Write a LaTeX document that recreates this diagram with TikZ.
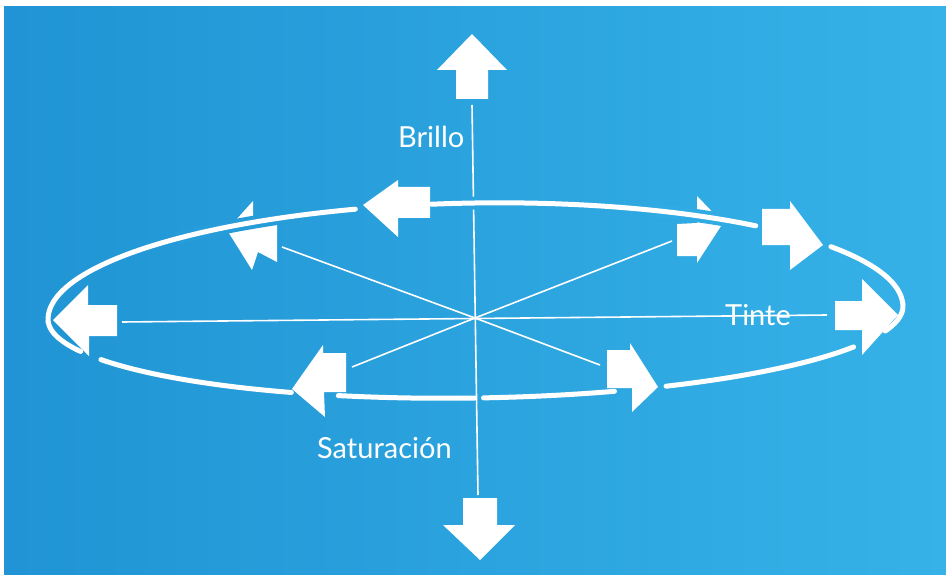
\documentclass[tikz,border=0pt]{standalone}
\usepackage{fontspec}
\setmainfont{Lato}
\definecolor{bgL}{RGB}{32,148,212}
\definecolor{bgR}{RGB}{54,178,232}
\definecolor{haloA}{RGB}{38,156,217}
\definecolor{haloV}{RGB}{43,163,222}
\definecolor{haloB}{RGB}{49,171,227}
\begin{document}
\begin{tikzpicture}[x={(1pt,0)},y={(0,-1pt)},
  arr/.style={fill=white,draw=none},
  ring/.style={draw=white,line width=5pt,line cap=round},
  thinline/.style={draw=white,line width=1.6pt},
  lbl/.style={text=white,font=\fontsize{29}{34}\selectfont,inner sep=0pt,anchor=base west}]

\useasboundingbox (0,0) rectangle (946,575);
\fill[white] (0,0) rectangle (946,575);
\shade[left color=bgL,right color=bgR] (4,7) rectangle (946,575);

% coordinates
\coordinate (O) at (475,318);
\coordinate (sUL) at (282,247);
\coordinate (sUR) at (672,241);
\coordinate (sLL) at (352,367);
\coordinate (sLR) at (600,365);
\coordinate (hL) at (122,322);
\coordinate (hR) at (827,315);
\coordinate (vT) at (472,105);
\coordinate (vB) at (478,495);

% small arrows
\fill[arr] (227,230) -- (253,201) -- (253,222) -- (277,225) -- (277,262) -- (258,252) -- (252,270) -- cycle;
\fill[arr] (723,223) -- (697,196) -- (697,223) -- (677,224) -- (677,256) -- (697,256) -- (697,263) -- cycle;

% spokes and axes
\draw[thinline] (O) -- (sUL);
\draw[thinline] (O) -- (sUR);
\draw[thinline] (O) -- (sLL);
\draw[thinline] (O) -- (sLR);
\draw[thinline] (hL) -- (hR);
\draw[thinline] (vT) -- (vB);

% ellipse
\begin{scope}[shift={(475.5,313)},rotate=0.9]
 % local halos where the ring passes over other lines
 \draw[haloA,line width=13pt] plot[domain=226:246,samples=20] ({427.5*cos(\x)},{110*sin(\x)});
 \draw[haloV,line width=13pt] plot[domain=268:272,samples=5] ({427.5*cos(\x)},{110*sin(\x)});
 \draw[haloB,line width=13pt] plot[domain=295:309,samples=15] ({427.5*cos(\x)},{110*sin(\x)});
 \draw[ring] plot[domain=157.7:180,samples=20] ({427.5*cos(\x)},{85*sin(\x)})
     -- plot[domain=180:253.9,samples=60] ({427.5*cos(\x)},{110*sin(\x)});
 \draw[ring] plot[domain=264.3:311.2,samples=50] ({427.5*cos(\x)},{110*sin(\x)});
 \draw[ring] plot[domain=326.5:360,samples=30] ({427.5*cos(\x)},{110*sin(\x)})
     -- plot[domain=0:16.7,samples=20] ({427.5*cos(\x)},{85*sin(\x)});
 \draw[ring] plot[domain=28:63.7,samples=40] ({427.5*cos(\x)},{85*sin(\x)});
 \draw[ring] plot[domain=71.2:89.1,samples=20] ({427.5*cos(\x)},{85*sin(\x)});
 \draw[ring] plot[domain=90.3:108.9,samples=20] ({427.5*cos(\x)},{85*sin(\x)});
 \draw[ring] plot[domain=115.7:151.4,samples=40] ({427.5*cos(\x)},{85*sin(\x)});
\end{scope}

% big arrows
\fill[arr] (472,34) -- (507,70) -- (488,70) -- (488,99) -- (456,99) -- (456,70) -- (437,70) -- cycle;
\fill[arr] (480,560) -- (515,525) -- (497,525) -- (497,498) -- (463,498) -- (463,525) -- (443,525) -- cycle;
\fill[arr] (363,205) -- (398,180) -- (398,187) -- (430,187) -- (430,218) -- (398,218) -- (398,237) -- cycle;
\fill[arr] (53,320) -- (88,285) -- (88,305) -- (117,305) -- (117,336) -- (89,336) -- (89,356) -- cycle;
\fill[arr] (823,245) -- (790,201) -- (790,209) -- (762,209) -- (762,245) -- (790,245) -- (790,270) -- cycle;
\fill[arr] (898,315) -- (862,279) -- (862,301) -- (835,301) -- (835,330) -- (862,330) -- (862,355) -- cycle;
\fill[arr] (292,389) -- (323,345) -- (323,353) -- (346,353) -- (346,392) -- (324,392) -- (325,417) -- cycle;
\fill[arr] (658,387) -- (630,343) -- (630,350) -- (607,350) -- (607,388) -- (632,388) -- (632,412) -- cycle;

% labels
\node[lbl] (brillo) at (398,148) {Brillo};
\node[lbl] (sat) at (317,458) {Saturación};
\node[lbl] (tinte) at (725,325) {Tinte};
\end{tikzpicture}
\end{document}
